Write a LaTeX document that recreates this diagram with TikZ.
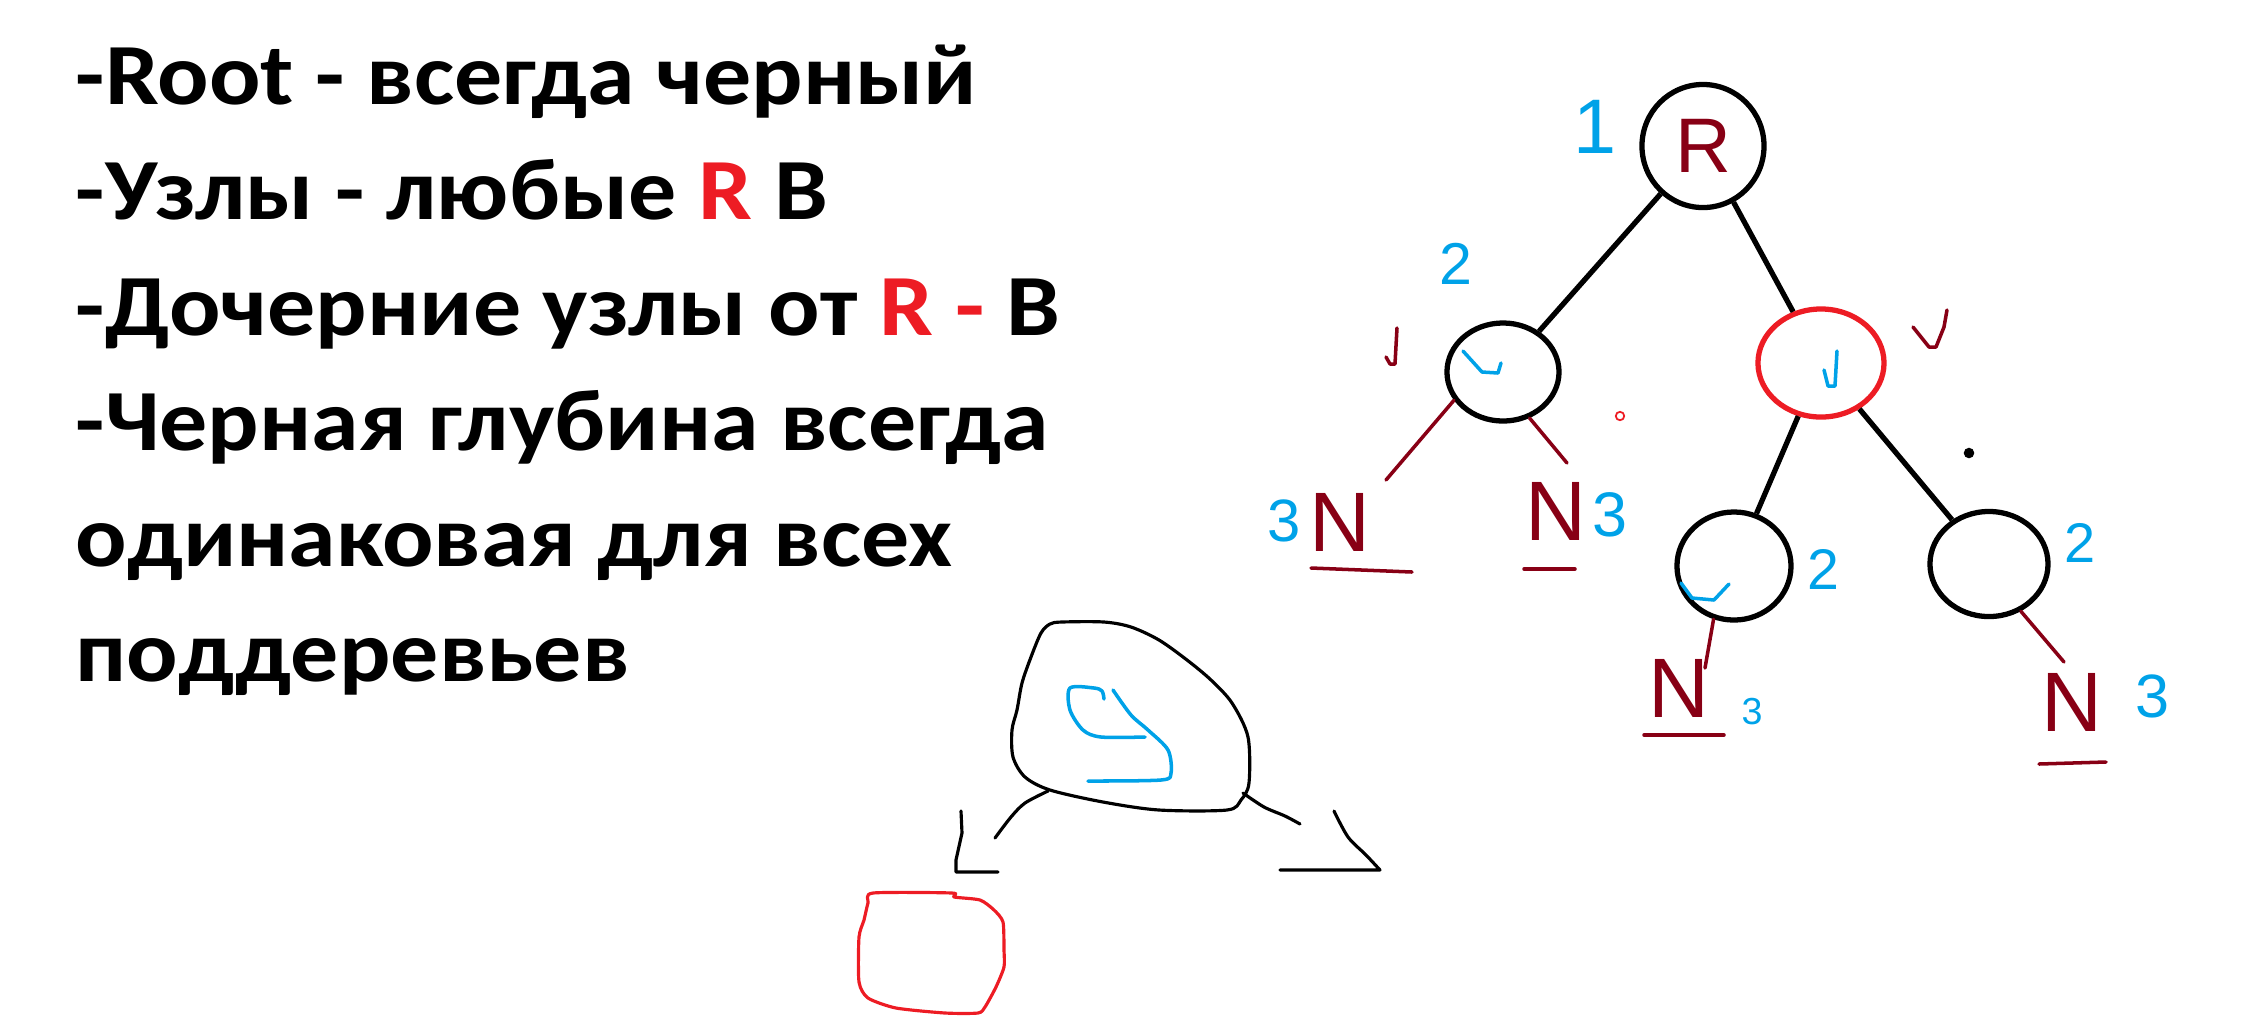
\documentclass[tikz,border=0pt]{standalone}
\usepackage{fontspec}
\setmainfont{Carlito}[FakeStretch=1.1]
\newfontfamily\handfont{Liberation Sans}
\usepackage{xcolor}
\usetikzlibrary{shapes.geometric, positioning, calc}
\definecolor{paintred}{HTML}{ED1C24}
\definecolor{paintmaroon}{HTML}{880015}
\definecolor{paintblue}{HTML}{00A2E8}

\begin{document}
\begin{tikzpicture}[
    x=0.01cm, y=-0.01cm,
    ruleline/.style={anchor=base west, inner sep=0pt, font=\fontsize{24.8}{29}\selectfont\bfseries},
    treenode/.style={ellipse, draw=#1, line width=1.5pt, inner sep=0pt},
    treeedge/.style={line width=1.5pt},
    depthnum/.style={text=paintblue, inner sep=0pt, font=\handfont\fontsize{#1}{#1}\selectfont},
    nilmark/.style={text=paintmaroon, inner sep=0pt, font=\handfont\fontsize{24}{24}\selectfont},
    nilline/.style={draw=paintmaroon, line width=1pt, line cap=round},
    tick/.style={line width=1pt, line cap=round, line join=round},
    sketch/.style={line width=0.9pt, line cap=round, line join=round},
]
\useasboundingbox (0,0) rectangle (2262,1035);

% rules
\node[ruleline] (rule1) at (75,104) {-Root - всегда черный};
\node[ruleline] (rule2) at (75,219.5) {-Узлы - любые \textcolor{paintred}{R} B};
\node[ruleline] (rule3) at (75,335) {-Дочерние узлы от \textcolor{paintred}{R -} B};
\node[ruleline] (rule4) at (75,450.5) {-Черная глубина всегда};
\node[ruleline] (rule5) at (75,566) {одинаковая для всех};
\node[ruleline] (rule6) at (75,681.5) {поддеревьев};

% tree
\node[treenode=black, minimum width=1.22cm, minimum height=1.23cm, text=paintmaroon, font=\handfont\fontsize{22}{22}\selectfont] (root) at (1703,146) {R};
\node[treenode=black, minimum width=1.12cm, minimum height=0.98cm] (lc) at (1503,372) {};
\node[treenode=paintred, minimum width=1.26cm, minimum height=1.08cm] (rc) at (1821,363) {};
\node[treenode=black, minimum width=1.14cm, minimum height=1.08cm] (lgc) at (1734,566) {};
\node[treenode=black, minimum width=1.18cm, minimum height=1.05cm] (rgc) at (1989,564) {};

\draw[treeedge] (root) -- (lc);
\draw[treeedge] (root) -- (rc);
\draw[treeedge] (rc) -- (lgc);
\draw[treeedge] (rc) -- (rgc);

% black depth
\node[depthnum=22] (d1) at (1595,127) {1};
\node[depthnum=16.8] (d2a) at (1456,264) {2};
\node[depthnum=17] (d3a) at (1284,521) {3};
\node[depthnum=17.9] (d3b) at (1610,515) {3};
\node[depthnum=16.3] (d2b) at (1823,569) {2};
\node[depthnum=10.7] (d3c) at (1752,712) {3};
\node[depthnum=15.9] (d2c) at (2080,543) {2};
\node[depthnum=17.4] (d3d) at (2153,696) {3};

% nil leaves
\node[nilmark] (nilA) at (1340,522) {N};
\node[nilmark] (nilB) at (1556,511) {N};
\node[nilmark] (nilC) at (1679,688) {N};
\node[nilmark] (nilD) at (2072,702) {N};

\draw[nilline] (lc.210) -- ([shift={(46,-42)}]nilA.center);
\draw[nilline] (lc.300) -- ([shift={(11,-48)}]nilB.center);
\draw[nilline] (lgc.249) -- ([shift={(26,-20)}]nilC.center);
\draw[nilline] (rgc.304) -- ([shift={(-8,-40)}]nilD.center);

\draw[nilline] ([shift={(-29,46)}]nilA.center) -- ++(101,4);
\draw[nilline] ([shift={(-32,58)}]nilB.center) -- ++(51,0);
\draw[nilline] ([shift={(-35,47)}]nilC.center) -- ++(80,0);
\draw[nilline] ([shift={(-33,62)}]nilD.center) -- ++(67,-2);

% ticks
\draw[tick, paintmaroon] (1397,328) -- (1395,364) -- (1390,364) -- (1386,357);
\draw[tick, paintmaroon] (1913,327) -- (1929,347) -- (1936,347) -- (1944,327) -- (1947,310);
\draw[tick, paintblue] (1463,351) -- (1482,372) -- (1498,373) -- (1501,363);
\draw[tick, paintblue] (1837,351) -- (1835,386) -- (1828,386) -- (1824,370);
\draw[tick, paintblue] (1681,583) -- (1692,598) -- (1714,600) -- (1729,584);

\draw[paintred, line width=0.5pt] (1620,416) circle (1.2pt);
\fill (1969,453) circle (1.5pt);

% sketch of a node with two children
\draw[sketch] plot[smooth cycle, tension=0.5] coordinates {(1062,622) (1104,622) (1131,627) (1159,640) (1187,660) (1211,680) (1232,703) (1248,737) (1249,783) (1241,800) (1227,810) (1159,810) (1103,802) (1050,790) (1025,777) (1013,757) (1012,730) (1017,710) (1022,683) (1031,657) (1041,633) (1050,624)};
\draw[sketch, paintblue, line width=1pt] plot[smooth, tension=0.5] coordinates {(1104,699) (1102,691) (1094,688) (1070,688) (1070,710) (1083,730) (1101,737) (1145,737)};
\draw[sketch, paintblue, line width=1pt] plot[smooth, tension=0.5] coordinates {(1113,690) (1131,715) (1148,730) (1168,750) (1171,773) (1161,780) (1088,781)};

\draw[sketch] plot[smooth, tension=0.5] coordinates {(1048,791) (1025,803) (1011,817) (995,838)};
\draw[sketch] (961,811) -- (962,833) -- (956,860) -- (956,872) -- (998,872);
\draw[sketch] plot[smooth, tension=0.5] coordinates {(1243,793) (1264,807) (1285,816) (1300,824)};
\draw[sketch] plot[smooth, tension=0.5] coordinates {(1334,811) (1348,837) (1366,855) (1380,870)} -- (1280,870);

\draw[sketch, paintred] plot[smooth cycle, tension=0.4] coordinates {(873,893) (952,893) (954,897) (980,900) (994,910) (1003,922) (1004,950) (1004,967) (996,987) (985,1007) (978,1013) (945,1013) (896,1008) (868,998) (859,982) (859,937) (864,920) (868,903)};

\end{tikzpicture}
\end{document}
